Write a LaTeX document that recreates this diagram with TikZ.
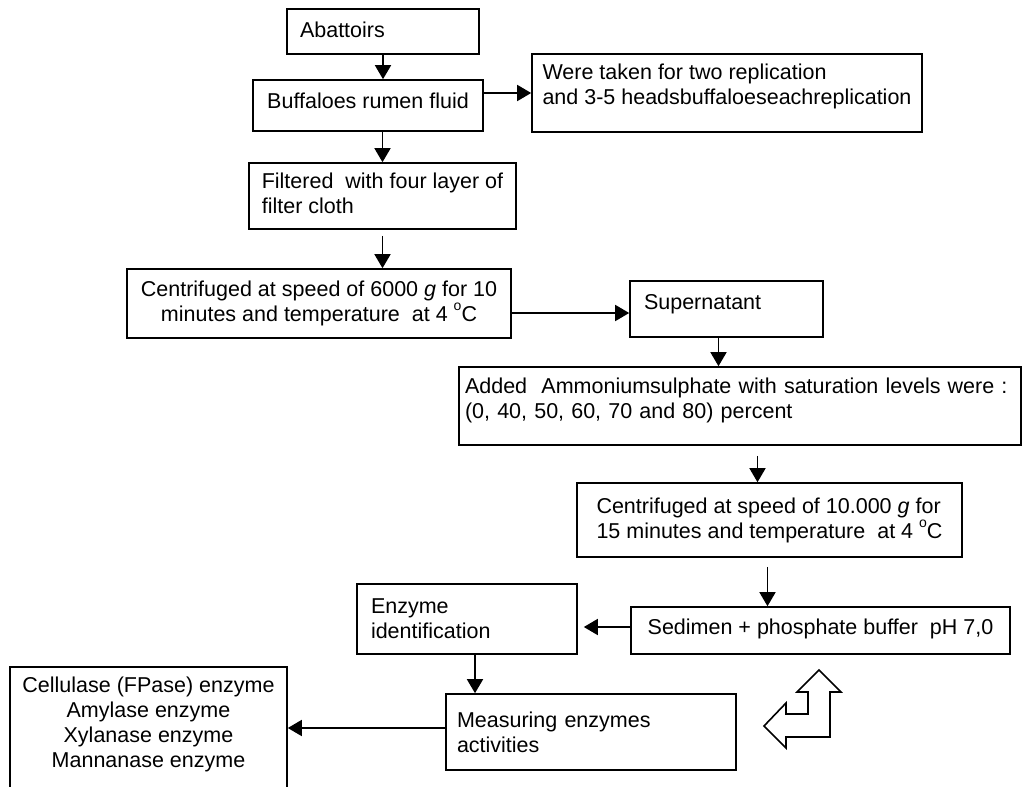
\documentclass[tikz,border=0pt]{standalone}
\usepackage{fontspec}
\setmainfont{Liberation Sans}
\usetikzlibrary{arrows.meta}
\newcommand{\degsup}{\raisebox{0.5em}{\fontsize{7}{7}\selectfont o}}
\begin{document}
\begin{tikzpicture}[x=0.5pt,y=-0.5pt,
  box/.style={draw, thick, inner sep=0pt, font=\fontsize{10.75}{12.5}\selectfont},
  arr/.style={draw, thick, ->, >={Triangle[length=7pt,width=8pt]}}]
\useasboundingbox (0,0) rectangle (1029,787);
\clip (0,0) rectangle (1029,787);

\node[box, minimum height=22.5pt, inner xsep=6.5pt, text width=83pt, text depth=1.5pt] (1) at (383,31.5) {Abattoirs};
\node[box, minimum width=115pt, minimum height=25.5pt, text depth=5pt] (2) at (368,105.5) {Buffaloes rumen fluid};
\node[box, align=left, minimum width=195pt, minimum height=39pt, text depth=8.8pt] (3) at (727,93) {Were taken for two replication\\and 3-5 headsbuffaloeseachreplication};
\node[box, align=left, minimum width=133.5pt, minimum height=33pt, text depth=3pt] (4) at (382.5,196) {Filtered\ \ with four layer of\\filter cloth};
\node[box, align=center, minimum width=192pt, minimum height=34.5pt] (5) at (319,303.5) {Centrifuged at speed of 6000 \textit{g} for 10\\minutes and temperature\ \ at 4 \degsup C};
\node[box, minimum height=28pt, inner xsep=7pt, text width=82.5pt, text depth=7pt] (6) at (726.5,309) {Supernatant};
\node[box, minimum height=39pt, inner xsep=3pt, text width=275pt, text depth=20.3pt] (7) at (740,406) {Added\ \ Ammoniumsulphate with saturation levels were :\\(0, 40, 50, 60, 70 and 80) percent};
\node[box, align=left, minimum width=192.5pt, minimum height=37pt] (8) at (769.5,520) {Centrifuged at speed of 10.000 \textit{g} for\\15 minutes and temperature\ \ at 4 \degsup C};
\node[box, minimum width=189.5pt, minimum height=23.5pt, text depth=3.6pt] (9) at (820.5,630.5) {Sedimen + phosphate buffer\ \ pH 7,0};
\node[box, minimum height=35pt, inner xsep=7pt, text width=96pt] (10) at (467,619) {Enzyme\\identification};
\node[box, minimum height=38pt, inner xsep=5.5pt, text width=134pt] (11) at (591,732) {Measuring enzymes\\activities};
\node[box, align=center, minimum width=138.5pt, minimum height=66.5pt, text depth=10.8pt] (12) at (148.5,733.5) {Cellulase (FPase) enzyme\\Amylase enzyme\\Xylanase enzyme\\Mannanase enzyme};

\path[arr] (1.south) -- (1.south |- 2.north);
\path[arr] (2.east |- 3.west) -- (3.west);
\path[arr] (4.north |- 2.south) -- (4.north);
\path[arr] ([yshift=-3pt]4.south) -- (4.south |- 5.north);
\path[arr] ([yshift=-2pt]5.east |- 6.west) -- ([yshift=-2pt]6.west);
\path[arr] ([xshift=-4pt]6.south) -- ([xshift=-4pt]6.south |- 7.north);
\path[arr] ([xshift=-6pt,yshift=-5pt]7.south -| 8.north) -- ([xshift=-6pt]8.north);
\path[arr] ([xshift=-1pt,yshift=-4.5pt]8.south) -- ([xshift=-1pt]8.south |- 9.north);
\path[arr] ([yshift=1.75pt]9.west) -- ([xshift=3pt,yshift=1.75pt]9.west -| 10.east);
\path[arr] ([xshift=4pt]10.south) -- ([xshift=4pt]10.south |- 11.north);
\path[arr] ([yshift=2pt]11.west) -- ([yshift=2pt]11.west -| 12.east);

\draw[thick] (819,670) -- (841,692) -- (830,692) -- (830,737) -- (786,737) -- (786,748) -- (764,726) -- (786,703) -- (786,714) -- (808,714) -- (808,692) -- (797,692) -- cycle;
\end{tikzpicture}
\end{document}
